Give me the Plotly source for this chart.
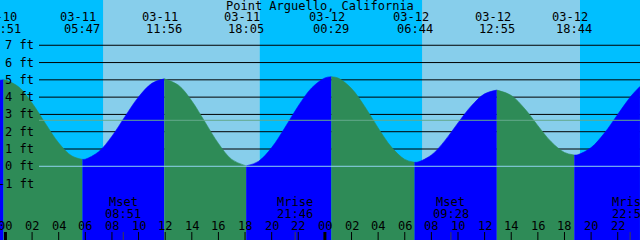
import plotly.graph_objects as go

# ---------------- data ----------------
title = "Point Arguello, California"

# tide extremes (high/low) : date, time, height in ft
event_dates = ["03-10", "03-11", "03-11", "03-11", "03-12", "03-12", "03-12", "03-12"]
event_times = ["23:51", "05:47", "11:56", "18:05", "00:29", "06:44", "12:55", "18:44"]
event_ft = [5.00, 0.40, 5.06, 0.02, 5.18, 0.23, 4.41, 0.65]

# hourly tide heights (hours from 03-11 00:00)
sample_hours = [-0.41, 0, 1, 2, 3, 4, 5, 6, 7, 8, 9, 10, 11, 13, 14, 15, 16, 17,
                19, 20, 21, 22, 23, 24, 25, 26, 27, 28, 29, 30, 31, 32, 33, 34, 35, 36,
                38, 39, 40, 41, 42, 43, 44, 45, 46, 47, 47.67]
sample_ft = [4.98, 4.99, 4.59, 3.66, 2.48, 1.35, 0.59, 0.41, 0.84, 1.74, 2.90, 4.01, 4.80,
             4.69, 3.78, 2.55, 1.32, 0.40,
             0.28, 1.08, 2.24, 3.49, 4.53, 5.11, 5.10, 4.50, 3.45, 2.22, 1.11, 0.40,
             0.25, 0.65, 1.47, 2.51, 3.49, 4.19,
             4.10, 3.34, 2.35, 1.42, 0.80, 0.67, 1.08, 1.92, 3.00, 4.06, 4.62]

# sunrise / sunset
sun_times = ["03-11 07:20", "03-11 19:07", "03-12 07:18", "03-12 19:10"]

# moon events
moon_labels = ["Mset", "Mrise", "Mset", "Mrise"]
moon_times = ["03-11 08:51", "03-11 21:46", "03-12 09:28", "03-12 22:56"]

ft_ticks = [-1, 0, 1, 2, 3, 4, 5, 6, 7]
mean_level_ft = 2.66

# ---------------- layout constants ----------------
W, H = 640, 240
X0 = -0.41
X1 = X0 + W / 13.31
Y0 = -4.263
Y1 = 9.618

DAY = "#87CEEB"
NIGHT = "#00BFFF"
RISE = "#0000FF"
FALL = "#2E8B57"
FONT = dict(family="DejaVu Sans Mono", size=12, color="black")


def hrs(day, hm):
    d = int(day.split("-")[1]) - 11
    hh, mm = hm.split(":")
    return d * 24 + int(hh) + int(mm) / 60.0


def hrs_s(s):
    d, t = s.split()
    return hrs(d, t)


event_h = [hrs(d, t) for d, t in zip(event_dates, event_times)]
sun_h = [hrs_s(s) for s in sun_times]
moon_h = [hrs_s(s) for s in moon_times]

pts = sorted(list(zip(sample_hours, sample_ft)) + list(zip(event_h, event_ft)))

fig = go.Figure()

bounds = [X0] + event_h + [X1]
for a, b in zip(bounds[:-1], bounds[1:]):
    seg = [p for p in pts if a - 1e-9 <= p[0] <= b + 1e-9]
    if len(seg) < 2:
        continue
    c = RISE if seg[-1][1] > seg[0][1] else FALL
    fig.add_trace(go.Scatter(x=[seg[0][0], seg[-1][0]], y=[Y0 - 1, Y0 - 1], mode="lines",
                             line=dict(width=0), showlegend=False, hoverinfo="skip"))
    fig.add_trace(go.Scatter(x=[p[0] for p in seg], y=[p[1] for p in seg], mode="lines",
                             line=dict(color=c, width=0.6, shape="spline"),
                             fill="tonexty", fillcolor=c, showlegend=False, hoverinfo="skip"))

shapes = []
# day / night background
edges = [X0 - 1] + sun_h + [X1 + 1]
for i, (a, b) in enumerate(zip(edges[:-1], edges[1:])):
    shapes.append(dict(type="rect", xref="x", yref="paper", x0=a, x1=b, y0=0, y1=1,
                       fillcolor=NIGHT if i % 2 == 0 else DAY, line=dict(width=0), layer="below"))
# grid lines (behind water)
for f in ft_ticks:
    if f >= 1:
        shapes.append(dict(type="line", xref="paper", yref="y", x0=39 / W, x1=1, y0=f, y1=f,
                           line=dict(color="black", width=1), layer="below"))
# datum & mean lines on top
shapes.append(dict(type="line", xref="paper", yref="y", x0=39 / W, x1=1, y0=0, y1=0,
                   line=dict(color="#8FD3EE", width=1), layer="above"))
shapes.append(dict(type="line", xref="paper", yref="y", x0=39 / W, x1=1, y0=mean_level_ft,
                   y1=mean_level_ft, line=dict(color="#63A98C", width=1), layer="above"))
# hour ticks
for h in range(0, 48, 2):
    shapes.append(dict(type="line", xref="x", yref="paper", x0=h, x1=h, y0=0, y1=8 / H,
                       line=dict(color="black", width=3 if h % 24 == 0 else 1), layer="above"))
for h in moon_h:
    shapes.append(dict(type="line", xref="x", yref="paper", x0=h, x1=h, y0=0, y1=8 / H,
                       line=dict(color="#404040", width=1), layer="above"))

ann = []
ann.append(dict(text=title, xref="paper", yref="paper", x=0.5, y=1 - 6 / H,
                showarrow=False, font=FONT, xanchor="center", yanchor="middle"))
for h, d, t in zip(event_h, event_dates, event_times):
    ann.append(dict(text=d, xref="x", yref="paper", x=h, xshift=-4, y=1 - 17.5 / H,
                    showarrow=False, font=FONT, xanchor="center", yanchor="middle"))
    ann.append(dict(text=t, xref="x", yref="paper", x=h, y=1 - 29 / H,
                    showarrow=False, font=FONT, xanchor="center", yanchor="middle"))
for f in ft_ticks:
    ann.append(dict(text=f"{f} ft", xref="paper", yref="y", x=35.5 / W, y=f,
                    showarrow=False, font=FONT, xanchor="right", yanchor="middle"))
for h in range(0, 48, 2):
    ann.append(dict(text=f"{h % 24:02d}", xref="x", yref="paper", x=h, y=(H - 226) / H,
                    showarrow=False, font=FONT, xanchor="center", yanchor="middle"))
for h, lab, s in zip(moon_h, moon_labels, moon_times):
    ann.append(dict(text=lab, xref="x", yref="paper", x=h, y=(H - 202) / H,
                    showarrow=False, font=FONT, xanchor="center", yanchor="middle"))
    ann.append(dict(text=s.split()[1], xref="x", yref="paper", x=h, y=(H - 213.5) / H,
                    showarrow=False, font=FONT, xanchor="center", yanchor="middle"))

fig.update_layout(
    width=W, height=H, margin=dict(l=0, r=0, t=0, b=0, pad=0),
    paper_bgcolor=NIGHT, plot_bgcolor=NIGHT,
    xaxis=dict(range=[X0, X1], visible=False, fixedrange=True),
    yaxis=dict(range=[Y0, Y1], visible=False, fixedrange=True),
    shapes=shapes, annotations=ann, showlegend=False, hovermode=False,
)

fig.write_html("out.html", config={"displayModeBar": False})
